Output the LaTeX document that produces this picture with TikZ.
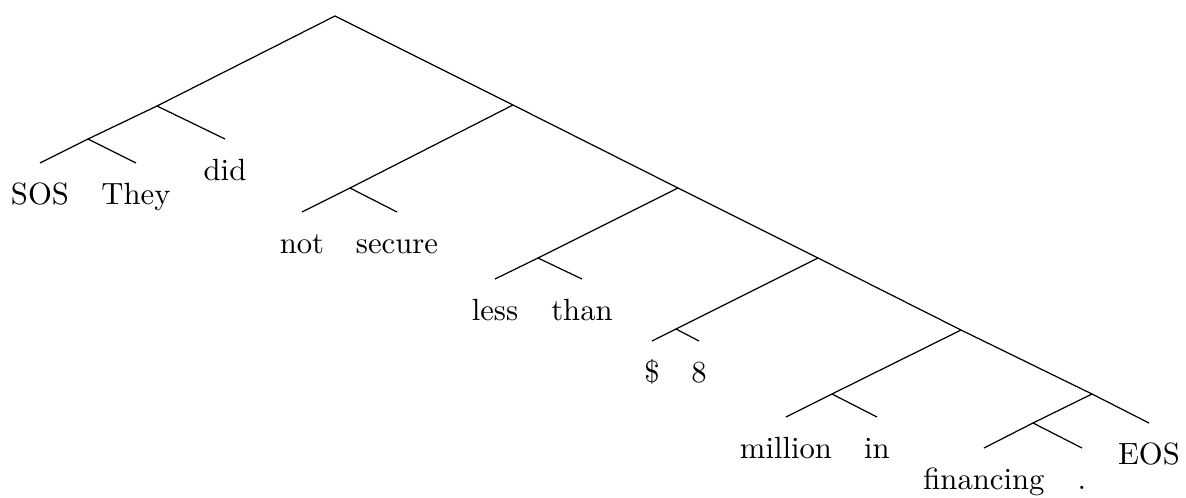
\documentclass[tikz,border=0pt]{standalone}
\begin{document}
\begin{tikzpicture}[x=0.3257pt,y=-0.3257pt,
  leaf/.style={anchor=north,inner sep=0pt,text height=13.36pt,text depth=0pt},
  br/.style={line width=0.4pt}]
\useasboundingbox (0,0) rectangle (1186,497);
% internal points
\coordinate (root) at (335,16);
\coordinate (A) at (157,106);
\coordinate (B) at (88,139);
\coordinate (C1) at (513,105);
\coordinate (C) at (350,188);
\coordinate (D) at (678,188);
\coordinate (E) at (538,258);
\coordinate (F) at (818,258);
\coordinate (G) at (676,329);
\coordinate (H) at (961,330);
\coordinate (I) at (832,394);
\coordinate (J) at (1092,394);
\coordinate (K) at (1033,423);
% leaves
\node[leaf] (sos) at (40,163) {SOS};
\node[leaf] (they) at (136,163) {They};
\node[leaf] (did) at (225,139) {did};
\node[leaf] (not) at (302,212) {not};
\node[leaf] (secure) at (397,212) {secure};
\node[leaf] (less) at (495,279) {less};
\node[leaf] (than) at (582,279) {than};
\node[leaf] (dollar) at (652,341) {\$};
\node[leaf] (eight) at (699,341) {8};
\node[leaf] (million) at (786,417) {million};
\node[leaf] (in) at (877,417) {in};
\node[leaf] (financing) at (984,448) {financing};
\node[leaf] (dot) at (1082,448) {.};
\node[leaf] (eos) at (1149,423) {EOS};
% branches
\draw[br] (A) -- (root) -- (C1) -- (D) -- (F) -- (H) -- (J) -- (eos.north);
\draw[br] (B) -- (A) -- (did.north);
\draw[br] (sos.north) -- (B) -- (they.north);
\draw[br] (C1) -- (C);
\draw[br] (not.north) -- (C) -- (secure.north);
\draw[br] (D) -- (E);
\draw[br] (less.north) -- (E) -- (than.north);
\draw[br] (F) -- (G);
\draw[br] (dollar.north) -- (G) -- (eight.north);
\draw[br] (H) -- (I);
\draw[br] (million.north) -- (I) -- (in.north);
\draw[br] (J) -- (K);
\draw[br] (financing.north) -- (K) -- (dot.north);
\end{tikzpicture}
\end{document}
